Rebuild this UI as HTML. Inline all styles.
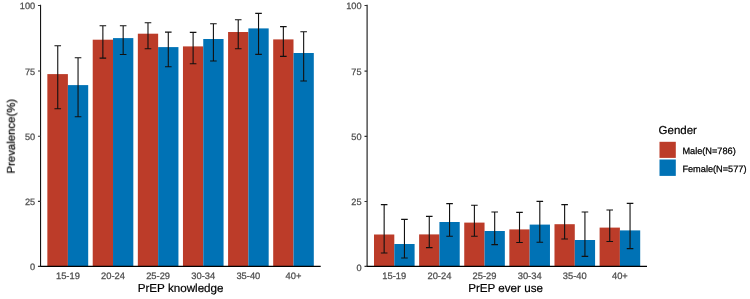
<!DOCTYPE html>
<html><head><meta charset="utf-8"><title>PrEP prevalence by gender</title>
<style>
html,body{margin:0;padding:0;background:#fff;}
body{width:750px;height:299px;overflow:hidden;font-family:"Liberation Sans",sans-serif;}
svg{display:block;font-family:"Liberation Sans",sans-serif;}
text{will-change:opacity;opacity:.999;text-rendering:geometricPrecision;}
</style></head><body>
<svg width="750" height="299" viewBox="0 0 750 299">
<rect width="750" height="299" fill="#fff"/>
<rect x="47.35" y="74.10" width="20.55" height="192.20" fill="#BC3C29"/>
<rect x="67.90" y="85.10" width="20.30" height="181.20" fill="#0072B5"/>
<rect x="92.72" y="39.70" width="20.30" height="226.60" fill="#BC3C29"/>
<rect x="113.02" y="38.10" width="20.30" height="228.20" fill="#0072B5"/>
<rect x="137.84" y="33.70" width="20.30" height="232.60" fill="#BC3C29"/>
<rect x="158.14" y="47.10" width="20.30" height="219.20" fill="#0072B5"/>
<rect x="182.96" y="46.40" width="20.30" height="219.90" fill="#BC3C29"/>
<rect x="203.26" y="39.00" width="20.30" height="227.30" fill="#0072B5"/>
<rect x="228.08" y="32.00" width="20.30" height="234.30" fill="#BC3C29"/>
<rect x="248.38" y="28.40" width="20.30" height="237.90" fill="#0072B5"/>
<rect x="273.20" y="39.40" width="20.30" height="226.90" fill="#BC3C29"/>
<rect x="293.50" y="53.00" width="20.30" height="213.30" fill="#0072B5"/>
<path d="M54.45 45.70H61.05M54.45 108.70H61.05M57.75 45.70V108.70M74.75 57.70H81.35M74.75 116.70H81.35M78.05 57.70V116.70M99.57 25.70H106.17M99.57 58.10H106.17M102.87 25.70V58.10M119.87 25.70H126.47M119.87 54.50H126.47M123.17 25.70V54.50M144.69 22.70H151.29M144.69 48.70H151.29M147.99 22.70V48.70M164.99 32.10H171.59M164.99 66.70H171.59M168.29 32.10V66.70M189.81 32.40H196.41M189.81 63.80H196.41M193.11 32.40V63.80M210.11 23.80H216.71M210.11 61.00H216.71M213.41 23.80V61.00M234.93 19.80H241.53M234.93 48.70H241.53M238.23 19.80V48.70M255.23 13.40H261.83M255.23 54.40H261.83M258.53 13.40V54.40M280.05 26.60H286.65M280.05 56.40H286.65M283.35 26.60V56.40M300.35 31.80H306.95M300.35 81.00H306.95M303.65 31.80V81.00" stroke="#111" stroke-width="1.1" fill="none"/>
<path d="M40.55 4.7V266.85" stroke="#151515" stroke-width="1.1" fill="none"/><path d="M40.00 266.40H320.70" stroke="#000" stroke-width="1.2" fill="none"/>
<path d="M37.95 266.40H40.55M37.95 201.43H40.55M37.95 136.20H40.55M37.95 70.97H40.55M37.95 5.45H40.55" stroke="#333" stroke-width="1.15" fill="none"/>
<text x="35.15" y="270.20" text-anchor="end" font-size="9.2" fill="#4D4D4D" stroke="#4D4D4D" stroke-width="0.25">0</text>
<text x="35.15" y="204.98" text-anchor="end" font-size="9.2" fill="#4D4D4D" stroke="#4D4D4D" stroke-width="0.25">25</text>
<text x="35.15" y="139.75" text-anchor="end" font-size="9.2" fill="#4D4D4D" stroke="#4D4D4D" stroke-width="0.25">50</text>
<text x="35.15" y="74.52" text-anchor="end" font-size="9.2" fill="#4D4D4D" stroke="#4D4D4D" stroke-width="0.25">75</text>
<text x="35.15" y="9.30" text-anchor="end" font-size="9.2" fill="#4D4D4D" stroke="#4D4D4D" stroke-width="0.25">100</text>
<text x="67.90" y="279.3" text-anchor="middle" font-size="9.35" fill="#4D4D4D" stroke="#4D4D4D" stroke-width="0.25">15-19</text>
<text x="113.02" y="279.3" text-anchor="middle" font-size="9.35" fill="#4D4D4D" stroke="#4D4D4D" stroke-width="0.25">20-24</text>
<text x="158.14" y="279.3" text-anchor="middle" font-size="9.35" fill="#4D4D4D" stroke="#4D4D4D" stroke-width="0.25">25-29</text>
<text x="203.26" y="279.3" text-anchor="middle" font-size="9.35" fill="#4D4D4D" stroke="#4D4D4D" stroke-width="0.25">30-34</text>
<text x="248.38" y="279.3" text-anchor="middle" font-size="9.35" fill="#4D4D4D" stroke="#4D4D4D" stroke-width="0.25">35-40</text>
<text x="293.50" y="279.3" text-anchor="middle" font-size="9.35" fill="#4D4D4D" stroke="#4D4D4D" stroke-width="0.25">40+</text>
<text x="180.62" y="292.3" text-anchor="middle" font-size="11.65" fill="#000" stroke="#000" stroke-width="0.2">PrEP knowledge</text>
<rect x="374.00" y="234.50" width="20.30" height="31.80" fill="#BC3C29"/>
<rect x="394.30" y="244.00" width="20.30" height="22.30" fill="#0072B5"/>
<rect x="419.12" y="234.40" width="20.30" height="31.90" fill="#BC3C29"/>
<rect x="439.42" y="222.00" width="20.30" height="44.30" fill="#0072B5"/>
<rect x="464.24" y="222.60" width="20.30" height="43.70" fill="#BC3C29"/>
<rect x="484.54" y="231.00" width="20.30" height="35.30" fill="#0072B5"/>
<rect x="509.36" y="229.40" width="20.30" height="36.90" fill="#BC3C29"/>
<rect x="529.66" y="224.60" width="20.30" height="41.70" fill="#0072B5"/>
<rect x="554.48" y="224.20" width="20.30" height="42.10" fill="#BC3C29"/>
<rect x="574.78" y="240.00" width="20.30" height="26.30" fill="#0072B5"/>
<rect x="599.60" y="227.60" width="20.30" height="38.70" fill="#BC3C29"/>
<rect x="619.90" y="230.40" width="20.30" height="35.90" fill="#0072B5"/>
<path d="M380.85 204.60H387.45M380.85 253.00H387.45M384.15 204.60V253.00M401.15 219.40H407.75M401.15 258.00H407.75M404.45 219.40V258.00M425.97 216.40H432.57M425.97 247.60H432.57M429.27 216.40V247.60M446.27 203.60H452.87M446.27 236.20H452.87M449.57 203.60V236.20M471.09 205.20H477.69M471.09 236.20H477.69M474.39 205.20V236.20M491.39 212.00H497.99M491.39 244.60H497.99M494.69 212.00V244.60M516.21 212.40H522.81M516.21 242.50H522.81M519.51 212.40V242.50M536.51 201.40H543.11M536.51 242.30H543.11M539.81 201.40V242.30M561.33 204.60H567.93M561.33 239.00H567.93M564.63 204.60V239.00M581.63 212.00H588.23M581.63 256.40H588.23M584.93 212.00V256.40M606.45 210.00H613.05M606.45 241.50H613.05M609.75 210.00V241.50M626.75 203.40H633.35M626.75 248.60H633.35M630.05 203.40V248.60" stroke="#111" stroke-width="1.1" fill="none"/>
<path d="M367.10 4.7V266.85" stroke="#151515" stroke-width="1.1" fill="none"/><path d="M366.55 266.40H647.00" stroke="#000" stroke-width="1.2" fill="none"/>
<path d="M364.50 266.40H367.10M364.50 201.53H367.10M364.50 136.30H367.10M364.50 71.08H367.10M364.50 5.45H367.10" stroke="#333" stroke-width="1.15" fill="none"/>
<text x="361.50" y="270.55" text-anchor="end" font-size="9.2" fill="#4D4D4D" stroke="#4D4D4D" stroke-width="0.25">0</text>
<text x="361.50" y="205.33" text-anchor="end" font-size="9.2" fill="#4D4D4D" stroke="#4D4D4D" stroke-width="0.25">25</text>
<text x="361.50" y="140.10" text-anchor="end" font-size="9.2" fill="#4D4D4D" stroke="#4D4D4D" stroke-width="0.25">50</text>
<text x="361.50" y="74.88" text-anchor="end" font-size="9.2" fill="#4D4D4D" stroke="#4D4D4D" stroke-width="0.25">75</text>
<text x="361.50" y="8.90" text-anchor="end" font-size="9.2" fill="#4D4D4D" stroke="#4D4D4D" stroke-width="0.25">100</text>
<text x="394.30" y="279.3" text-anchor="middle" font-size="9.35" fill="#4D4D4D" stroke="#4D4D4D" stroke-width="0.25">15-19</text>
<text x="439.42" y="279.3" text-anchor="middle" font-size="9.35" fill="#4D4D4D" stroke="#4D4D4D" stroke-width="0.25">20-24</text>
<text x="484.54" y="279.3" text-anchor="middle" font-size="9.35" fill="#4D4D4D" stroke="#4D4D4D" stroke-width="0.25">25-29</text>
<text x="529.66" y="279.3" text-anchor="middle" font-size="9.35" fill="#4D4D4D" stroke="#4D4D4D" stroke-width="0.25">30-34</text>
<text x="574.78" y="279.3" text-anchor="middle" font-size="9.35" fill="#4D4D4D" stroke="#4D4D4D" stroke-width="0.25">35-40</text>
<text x="619.90" y="279.3" text-anchor="middle" font-size="9.35" fill="#4D4D4D" stroke="#4D4D4D" stroke-width="0.25">40+</text>
<text x="505.55" y="292.3" text-anchor="middle" font-size="11.65" fill="#000" stroke="#000" stroke-width="0.2">PrEP ever use</text>
<text transform="translate(14.8 136.3) rotate(-90)" text-anchor="middle" font-size="11.4" fill="#000" stroke="#000" stroke-width="0.2">Prevalence(%)</text>
<text x="658.6" y="133.9" font-size="11.5" fill="#000" stroke="#000" stroke-width="0.2">Gender</text>
<rect x="659.5" y="141.8" width="16.3" height="16.1" fill="#BC3C29"/>
<rect x="659.5" y="159.5" width="16.3" height="16.4" fill="#0072B5"/>
<text x="682.4" y="153.7" font-size="9.2" fill="#000" stroke="#000" stroke-width="0.25">Male(N=786)</text>
<text x="682.4" y="171.7" font-size="9.2" fill="#000" stroke="#000" stroke-width="0.25">Female(N=577)</text>
</svg>
</body></html>
